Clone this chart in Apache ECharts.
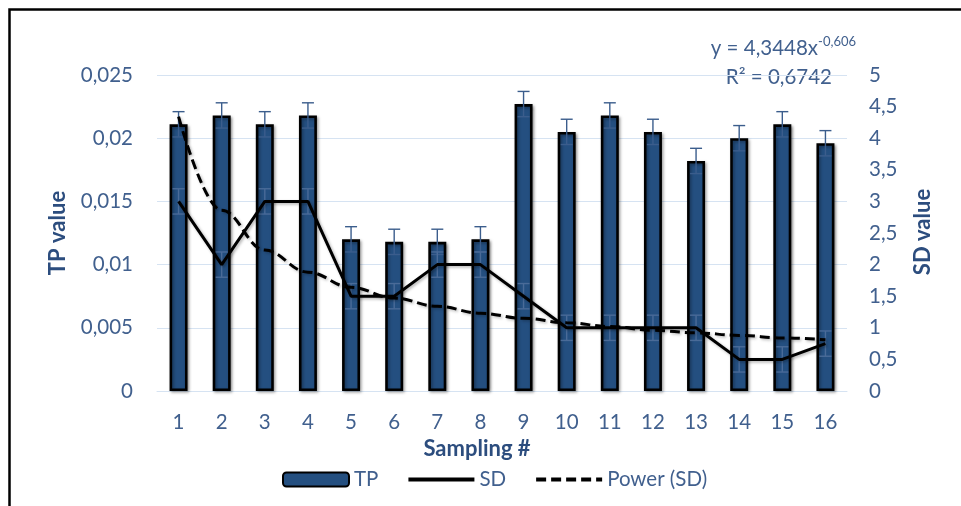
<!DOCTYPE html>
<html>
<head>
<meta charset="utf-8">
<script src="https://cdn.jsdelivr.net/npm/echarts@6/dist/echarts.min.js"></script>
<style>
html,body{margin:0;padding:0;background:#fff;}
#chart{width:961px;height:506px;}
</style>
</head>
<body>
<div id="chart"></div>
<script>
const categories = ['1','2','3','4','5','6','7','8','9','10','11','12','13','14','15','16'];
const tpValues = [0.0211, 0.0218, 0.0211, 0.0218, 0.0120, 0.0118, 0.0118, 0.0120, 0.0227, 0.0205, 0.0218, 0.0205, 0.0182, 0.0200, 0.0211, 0.0196];
const tpErrors = [0.001, 0.001, 0.001, 0.001, 0.001, 0.001, 0.001, 0.001, 0.001, 0.001, 0.001, 0.001, 0.001, 0.001, 0.001, 0.001];
const sdValues = [3, 2, 3, 3, 1.5, 1.5, 2, 2, 1.5, 1, 1, 1, 1, 0.5, 0.5, 0.75];
const sdErrors = [0.2, 0.2, 0.2, 0.2, 0.2, 0.2, 0.2, 0.2, 0.2, 0.2, 0.2, 0.2, 0.2, 0.2, 0.2, 0.2];
const powerValues = [4.34, 2.86, 2.23, 1.88, 1.64, 1.47, 1.34, 1.23, 1.15, 1.08, 1.02, 0.96, 0.92, 0.88, 0.84, 0.81];
const leftTickLabels = ['0', '0,005', '0,01', '0,015', '0,02', '0,025'];
const rightTickLabels = ['0', '0,5', '1', '1,5', '2', '2,5', '3', '3,5', '4', '4,5', '5'];

const FONT = 'Lato';
const LABEL_COLOR = '#41608E';
const TITLE_COLOR = '#2C4D7E';
const BAR_COLOR = '#244F80';
const FS = 20.5;

function errorBarSeries(values, errors, axisIndex, color, name, z) {
  return {
    type: 'custom',
    name: name,
    yAxisIndex: axisIndex,
    z: z,
    silent: true,
    data: values.map((v, i) => [i, v, errors[i]]),
    renderItem: function (params, api) {
      const x = api.value(0), v = api.value(1), e = api.value(2);
      const top = api.coord([x, v + e]);
      const bot = api.coord([x, v - e]);
      const hw = 6;
      const style = { stroke: color, lineWidth: 1.4, fill: null };
      return {
        type: 'group',
        children: [
          { type: 'line', shape: { x1: top[0], y1: top[1], x2: bot[0], y2: bot[1] }, style: style },
          { type: 'line', shape: { x1: top[0] - hw, y1: top[1], x2: top[0] + hw, y2: top[1] }, style: style },
          { type: 'line', shape: { x1: bot[0] - hw, y1: bot[1], x2: bot[0] + hw, y2: bot[1] }, style: style }
        ]
      };
    }
  };
}

const chart = echarts.init(document.getElementById('chart'), null, { renderer: 'canvas' });
chart.setOption({
  animation: false,
  backgroundColor: '#fff',
  textStyle: { fontFamily: FONT },
  grid: { left: 157, right: 114, top: 75, bottom: 115, containLabel: false },
  legend: {
    left: 277, top: 464,
    itemWidth: 66, itemHeight: 14, itemGap: 28,
    textStyle: { fontFamily: FONT, fontSize: FS, color: LABEL_COLOR },
    data: [
      { name: 'TP' },
      { name: 'SD', itemStyle: { opacity: 0 }, lineStyle: { width: 4 } },
      { name: 'Power (SD)', itemStyle: { opacity: 0 }, lineStyle: { width: 4 } }
    ]
  },
  xAxis: {
    type: 'category',
    data: categories,
    axisLine: { show: true, lineStyle: { color: '#D6E3F2', width: 1 } },
    axisTick: { show: false },
    axisLabel: { color: LABEL_COLOR, fontSize: FS, fontFamily: FONT, margin: 21 }
  },
  yAxis: [
    {
      type: 'value', min: 0, max: 0.025, interval: 0.005,
      axisLine: { show: false }, axisTick: { show: false },
      splitLine: { lineStyle: { color: '#D6E3F2', width: 1 } },
      axisLabel: {
        color: LABEL_COLOR, fontSize: FS, fontFamily: FONT, margin: 24,
        formatter: v => leftTickLabels[Math.round(v / 0.005)]
      }
    },
    {
      type: 'value', min: 0, max: 5, interval: 0.5,
      axisLine: { show: false }, axisTick: { show: false },
      splitLine: { show: false },
      axisLabel: {
        color: LABEL_COLOR, fontSize: FS, fontFamily: FONT, margin: 22,
        formatter: v => rightTickLabels[Math.round(v / 0.5)]
      }
    }
  ],
  series: [
    {
      name: 'TP', type: 'bar', yAxisIndex: 0, barWidth: 18, z: 2,
      data: tpValues,
      itemStyle: {
        color: BAR_COLOR, borderColor: '#000', borderWidth: 2.6,
        shadowColor: 'rgba(0,0,0,0.35)', shadowBlur: 3, shadowOffsetX: 1.5, shadowOffsetY: 1.5
      }
    },
    errorBarSeries(tpValues, tpErrors, 0, '#3B5D8C', 'TP err', 3),
    errorBarSeries(sdValues, sdErrors, 1, '#4A6B98', 'SD err', 3),
    {
      name: 'SD', type: 'line', yAxisIndex: 1, z: 5,
      data: sdValues, showSymbol: false, symbol: 'none',
      lineStyle: { color: '#000', width: 3, shadowColor: 'rgba(0,0,0,0.3)', shadowBlur: 3, shadowOffsetX: 1.5, shadowOffsetY: 1.5 },
      itemStyle: { color: '#000' }
    },
    {
      name: 'Power (SD)', type: 'line', yAxisIndex: 1, z: 4,
      data: powerValues, showSymbol: false, symbol: 'none',
      smooth: 0.4, smoothMonotone: 'x',
      lineStyle: { color: '#000', width: 3, type: [10, 5], shadowColor: 'rgba(0,0,0,0.25)', shadowBlur: 3, shadowOffsetX: 1.5, shadowOffsetY: 1.5 },
      itemStyle: { color: '#000' }
    }
  ],
  graphic: [
    { type: 'rect', silent: true, z: 100, shape: { x: 9.5, y: 9.5, width: 1000, height: 600 }, style: { fill: null, stroke: '#000', lineWidth: 2.5 } },
    { type: 'text', x: 58, y: 233, rotation: Math.PI / 2, silent: true,
      style: { text: 'TP value', fontFamily: FONT, fontSize: 22, fontWeight: 'bold', fill: TITLE_COLOR, align: 'center', verticalAlign: 'middle' } },
    { type: 'text', x: 923, y: 232, rotation: Math.PI / 2, silent: true,
      style: { text: 'SD value', fontFamily: FONT, fontSize: 22, fontWeight: 'bold', fill: TITLE_COLOR, align: 'center', verticalAlign: 'middle' } },
    { type: 'text', x: 477, y: 449, silent: true,
      style: { text: 'Sampling #', fontFamily: FONT, fontSize: 22, fontWeight: 'bold', fill: TITLE_COLOR, align: 'center', verticalAlign: 'middle' } },
    { type: 'text', x: 856, y: 48, silent: true,
      style: {
        text: '{a|y = 4,3448x}{b|-0,606}',
        align: 'right', verticalAlign: 'middle',
        rich: {
          a: { fontFamily: FONT, fontSize: FS, fill: LABEL_COLOR, color: LABEL_COLOR },
          b: { fontFamily: FONT, fontSize: 13, fill: LABEL_COLOR, color: LABEL_COLOR, verticalAlign: 'top', padding: [0, 0, 12, 0] }
        }
      } },
    { type: 'text', x: 832, y: 77, silent: true,
      style: { text: 'R² = 0,6742', fontFamily: FONT, fontSize: FS, fill: LABEL_COLOR, align: 'right', verticalAlign: 'middle' } }
  ]
});
</script>
</body>
</html>
